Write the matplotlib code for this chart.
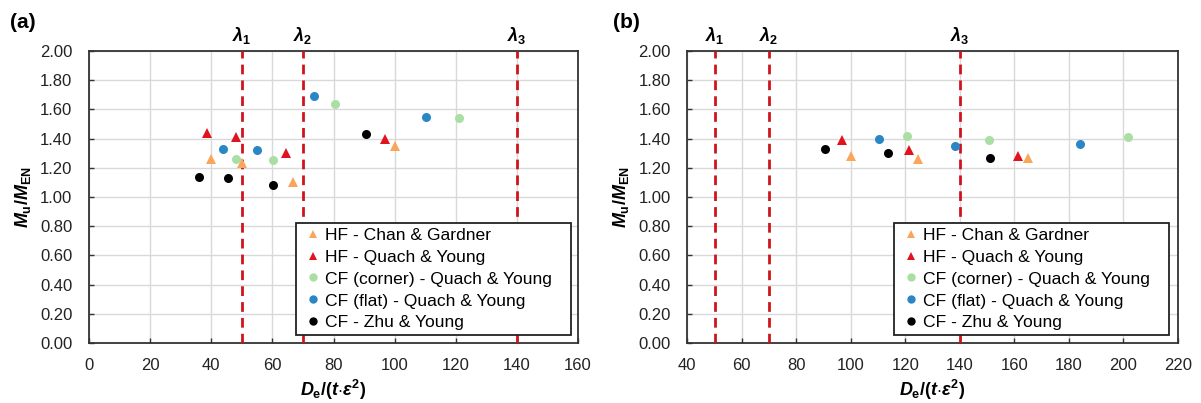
import matplotlib
matplotlib.use("Agg")
import matplotlib.pyplot as plt
from matplotlib.patches import Rectangle

plt.rcParams['font.family'] = ['Liberation Sans', 'DejaVu Sans']
plt.rcParams['mathtext.fontset'] = 'custom'
plt.rcParams['mathtext.rm'] = 'Liberation Sans:bold'
plt.rcParams['mathtext.it'] = 'Liberation Sans:italic:bold'
plt.rcParams['mathtext.bf'] = 'Liberation Sans:bold'

# ---------------- data ----------------
series_names = ["HF - Chan & Gardner", "HF - Quach & Young",
                "CF (corner) - Quach & Young", "CF (flat) - Quach & Young",
                "CF - Zhu & Young"]
series_markers = ["^", "^", "o", "o", "o"]
series_colors = ["#F9A65A", "#E0141E", "#A9DFA3", "#2A86C4", "#000000"]

# panel (a)
a_hf_cg_x = [39.9, 49.9, 66.6, 100.0]
a_hf_cg_y = [1.26, 1.23, 1.10, 1.35]
a_hf_qy_x = [38.5, 48.1, 64.4, 96.8]
a_hf_qy_y = [1.44, 1.41, 1.30, 1.40]
a_cfc_x = [48.1, 60.3, 80.5, 121.0]
a_cfc_y = [1.26, 1.25, 1.64, 1.54]
a_cff_x = [44.0, 55.0, 73.5, 110.3]
a_cff_y = [1.33, 1.32, 1.69, 1.55]
a_zy_x = [36.0, 45.4, 60.3, 90.5]
a_zy_y = [1.14, 1.13, 1.08, 1.43]

# panel (b)
b_hf_cg_x = [100.0, 124.8, 165.0]
b_hf_cg_y = [1.28, 1.26, 1.27]
b_hf_qy_x = [96.9, 121.3, 161.4]
b_hf_qy_y = [1.39, 1.32, 1.28]
b_cfc_x = [120.6, 150.8, 201.8]
b_cfc_y = [1.42, 1.39, 1.41]
b_cff_x = [110.4, 138.2, 184.0]
b_cff_y = [1.40, 1.35, 1.36]
b_zy_x = [90.7, 113.5, 151.0]
b_zy_y = [1.33, 1.30, 1.27]

lambda_values = [50, 70, 140]
lambda_labels = [r"$\lambda_{\mathrm{1}}$", r"$\lambda_{\mathrm{2}}$", r"$\lambda_{\mathrm{3}}$"]

a_xticks = [0, 20, 40, 60, 80, 100, 120, 140, 160]
b_xticks = [40, 60, 80, 100, 120, 140, 160, 180, 200, 220]
yticks = [0.0, 0.2, 0.4, 0.6, 0.8, 1.0, 1.2, 1.4, 1.6, 1.8, 2.0]

panel_a = [(a_hf_cg_x, a_hf_cg_y), (a_hf_qy_x, a_hf_qy_y), (a_cfc_x, a_cfc_y),
           (a_cff_x, a_cff_y), (a_zy_x, a_zy_y)]
panel_b = [(b_hf_cg_x, b_hf_cg_y), (b_hf_qy_x, b_hf_qy_y), (b_cfc_x, b_cfc_y),
           (b_cff_x, b_cff_y), (b_zy_x, b_zy_y)]

# ---------------- figure ----------------
fig = plt.figure(figsize=(12.01, 4.03), dpi=100)
ax_a = fig.add_axes([0.0741, 0.1489, 0.4072, 0.7246])
ax_b = fig.add_axes([0.5723, 0.1489, 0.4083, 0.7246])

spine_col = "#333333"


def style_panel(ax, data, xticks, box, leg_x, tag, tag_x):
    for (xs, ys), name, mk, col in zip(data, series_names, series_markers, series_colors):
        ms = 7.5 if mk == "^" else 6.5
        ax.plot(xs, ys, linestyle="none", marker=mk, markersize=ms,
                color=col, markeredgewidth=0, label=name, zorder=4)
    for lv, lt in zip(lambda_values, lambda_labels):
        ax.axvline(lv, color="#D0141C", linewidth=2.0, dashes=(3.5, 2.2), zorder=3)
        ax.text(lv, 2.035, lt, ha="center", va="bottom", fontsize=13,
                transform=ax.transData, clip_on=False)
    ax.set_xlim(xticks[0], xticks[-1])
    ax.set_ylim(0, 2.0)
    ax.set_xticks(xticks)
    ax.set_yticks(yticks)
    ax.set_xticklabels([str(t) for t in xticks])
    ax.set_yticklabels([f"{t:.2f}" for t in yticks])
    ax.grid(True, color="#D9D9D9", linewidth=1.0, zorder=0)
    ax.set_axisbelow(True)
    for s in ax.spines.values():
        s.set_color(spine_col)
        s.set_linewidth(1.3)
    ax.tick_params(axis="both", direction="in", length=3.5, width=1.0,
                   color=spine_col, labelsize=12, labelcolor="#222222")
    ax.tick_params(axis="y", pad=12)
    ax.tick_params(axis="x", pad=11)
    ax.set_xlabel(r"$D_{\mathrm{e}}/(t{\cdot}\varepsilon^{\mathrm{2}})$", fontsize=13, labelpad=3)
    ax.set_ylabel(r"$M_{\mathrm{u}}/M_{\mathrm{EN}}$", fontsize=13, labelpad=5)
    # legend frame
    x0, y0, x1, y1 = box
    ax.add_patch(Rectangle((x0, y0), x1 - x0, y1 - y0, transform=ax.transAxes,
                           facecolor="white", edgecolor="#222222", linewidth=1.3,
                           zorder=5, clip_on=False))
    leg = ax.legend(loc="center left", bbox_to_anchor=(leg_x, (y0 + y1) / 2),
                    bbox_transform=ax.transAxes, fontsize=12.6, frameon=False,
                    handlelength=1.0, handletextpad=0.2, borderpad=0.0,
                    labelspacing=0.38, borderaxespad=0.0)
    leg.set_zorder(6)
    for h in leg.legend_handles:
        h.set_markersize(6)
    fig.text(tag_x, 0.945, tag, fontsize=15, fontweight="bold", ha="left", va="center")


style_panel(ax_a, panel_a, a_xticks, (0.4233, 0.0274, 0.9857, 0.411), 0.4397, "(a)", 0.008)
style_panel(ax_b, panel_b, b_xticks, (0.4215, 0.0274, 0.9823, 0.411), 0.4378, "(b)", 0.510)

fig.savefig("out.png", dpi=100)
